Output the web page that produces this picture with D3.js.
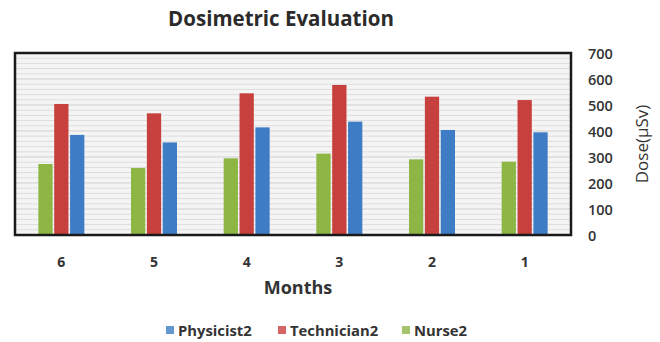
<!DOCTYPE html>
<html><head><meta charset="utf-8">
<script src="https://cdn.jsdelivr.net/npm/d3@7"></script>
<style>body{margin:0;background:#fff}svg{display:block}text{font-family:"Open Sans","Liberation Sans",sans-serif}</style>
</head><body><div id="c"></div>
<script>
const months = ["6","5","4","3","2","1"];
const seriesNames = ["Nurse2","Technician2","Physicist2"];
const nurse2 = [273, 258, 295, 313, 291, 282];
const technician2 = [504, 468, 545, 577, 532, 519];
const physicist2 = [385, 356, 414, 436, 404, 395];
const yTicks = [0,100,200,300,400,500,600,700];
const legendOrder = ["Physicist2","Technician2","Nurse2"];
const colors = {Nurse2:"#8db644", Technician2:"#c8403d", Physicist2:"#3f7cc6"};

const W=660,H=342;
const m={l:15,r:89,t:53,b:107};
const svg=d3.select("#c").append("svg").attr("width",W).attr("height",H);
const x=d3.scaleBand().domain(months).range([m.l,W-m.r]);
const y=d3.scaleLinear().domain([0,700]).range([H-m.b,m.t]);
const xs=d3.scaleBand().domain(seriesNames).range([0,46]).paddingInner(0.1);
const data={Nurse2:nurse2,Technician2:technician2,Physicist2:physicist2};

svg.append("rect").attr("x",m.l).attr("y",m.t).attr("width",W-m.l-m.r).attr("height",H-m.t-m.b).attr("fill","#f4f4f4");
const minor=d3.range(0,700,20);
svg.append("g").selectAll("line").data(minor).join("line")
  .attr("x1",m.l).attr("x2",W-m.r).attr("y1",d=>y(d)).attr("y2",d=>y(d))
  .attr("stroke",d=>d%100===0?"#cfcfcf":"#dedede").attr("stroke-width",1);

const g=svg.append("g");
seriesNames.forEach(s=>{
  g.selectAll(null).data(months).join("rect")
   .attr("x",(d,i)=>x(d)+x.bandwidth()/2-23+xs(s))
   .attr("width",xs.bandwidth())
   .attr("y",(d,i)=>y(data[s][i]))
   .attr("height",(d,i)=>y(0)-y(data[s][i]))
   .attr("fill",colors[s]);
});

svg.append("rect").attr("x",m.l).attr("y",m.t).attr("width",W-m.l-m.r).attr("height",H-m.t-m.b)
  .attr("fill","none").attr("stroke","#1a1a1a").attr("stroke-width",2.5);

const ya=d3.axisRight(y).tickValues(yTicks).tickSize(0).tickPadding(17);
svg.append("g").attr("transform",`translate(${W-m.r},0)`).call(ya)
  .call(g=>g.select(".domain").remove())
  .selectAll("text").attr("font-size",14.5).attr("font-weight",600).attr("fill","#333").attr("dy","0.35em");

const xa=d3.axisBottom(x).tickSize(0).tickPadding(22);
svg.append("g").attr("transform",`translate(0,${H-m.b})`).call(xa)
  .call(g=>g.select(".domain").remove())
  .selectAll("text").attr("font-size",14).attr("font-weight","bold").attr("fill","#333");

svg.append("text").attr("x",281).attr("y",26).attr("text-anchor","middle")
  .attr("font-size",20.5).attr("font-weight","bold").attr("fill","#2b2b2b").text("Dosimetric Evaluation");
svg.append("text").attr("x",298).attr("y",294).attr("text-anchor","middle")
  .attr("font-size",18).attr("font-weight","bold").attr("fill","#333").text("Months");
svg.append("text").attr("transform",`translate(648,${y(350)}) rotate(-90)`).attr("text-anchor","middle")
  .attr("font-size",17).attr("fill","#333").text("Dose(µSv)");

const lx=[166,278,402];
const lg=svg.append("g").selectAll("g").data(legendOrder).join("g")
  .attr("transform",(d,i)=>`translate(${lx[i]},${336})`);
lg.append("rect").attr("x",0).attr("y",-10).attr("width",8).attr("height",8).attr("fill",d=>colors[d]).attr("opacity",0.8);
lg.append("text").attr("x",12).attr("y",0).attr("font-size",14.8).attr("font-weight","bold").attr("fill","#333").text(d=>d);
</script></body></html>
